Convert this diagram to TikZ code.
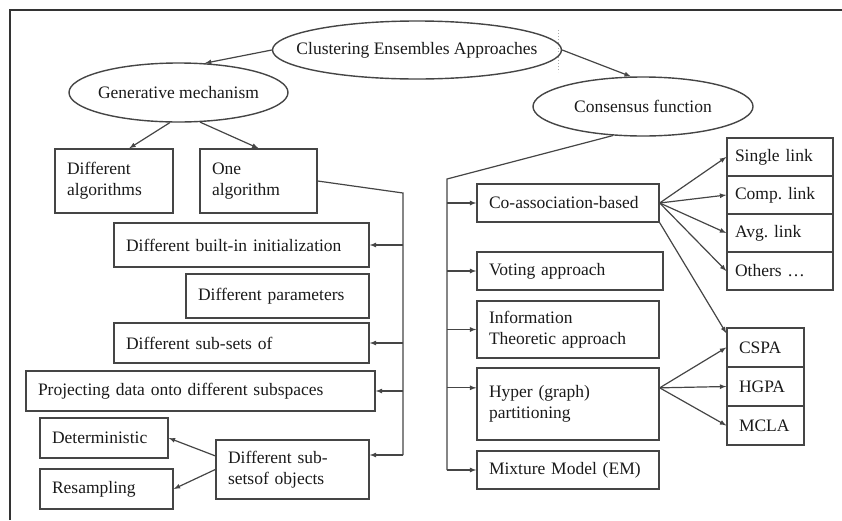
\documentclass[tikz,border=0pt]{standalone}
\usepackage{fontspec}
\setmainfont{Liberation Serif}
\usetikzlibrary{arrows,shapes.geometric}

\definecolor{linecol}{HTML}{454545}
\definecolor{framecol}{HTML}{333333}
\definecolor{textcol}{HTML}{1A1A1A}

\tikzset{
  box/.style={draw=linecol, line width=1.4pt, rectangle, inner xsep=12pt, inner ysep=0pt, align=left, text width=#1},
  oval/.style={draw=linecol, line width=1.4pt, ellipse, inner xsep=-25pt, inner ysep=0pt},
  link/.style={draw=linecol, line width=1.2pt},
}

\begin{document}
\begin{tikzpicture}[x=1pt, y=-1pt, >=latex, every node/.style={font=\fontsize{17.5}{21}\selectfont, text=textcol}]
  \useasboundingbox (0,0) rectangle (842,520);
  \draw [framecol, line width=2pt] (10,520) -- (10,10) -- (842,10);

  \node [oval, minimum width=289pt, minimum height=58pt] (root) at (417,50) {Clustering Ensembles Approaches};
  \node [oval, minimum width=219pt, minimum height=59pt] (gen) at (178.5,92.5) {Generative mechanism};
  \node [oval, minimum width=220pt, minimum height=59pt] (cons) at (643,106.5) {Consensus function};
  \draw [linecol!45, dotted, line width=1pt] (558,30) -- (558,72);

  \node [box=94pt, minimum height=64pt] (difalg) at (114,181) {Different\\algorithms};
  \node [box=93pt, minimum height=64pt] (onealg) at (258.5,181) {One\\algorithm};
  \node [box=231pt, minimum height=44pt] (builtin) at (241.5,245) {Different built-in initialization};
  \node [box=159pt, minimum height=44pt] (params) at (277.5,296) {Different parameters};
  \node [box=231pt, minimum height=40pt] (subsets) at (241.5,343) {Different sub-sets of};
  \node [box=325pt, minimum height=40pt] (project) at (200.5,391) {Projecting data onto different subspaces};
  \node [box=104pt, minimum height=40pt] (determ) at (104,438) {Deterministic};
  \node [box=109pt, minimum height=40pt] (resamp) at (106.5,489) {Resampling};
  \node [box=129pt, minimum height=59pt] (objects) at (292.5,469.5) {Different sub-\\setsof objects};

  \node [box=158pt, minimum height=38pt] (coassoc) at (568,203) {Co-association-based};
  \node [box=162pt, minimum height=38pt] (voting) at (570,271) {Voting approach};
  \node [box=158pt, minimum height=57pt] (info) at (568,329.5) {Information\\Theoretic approach};
  \node [box=158pt, minimum height=72pt] (hyper) at (568,404) {Hyper (graph)\\partitioning};
  \node [box=158pt, minimum height=38pt] (mixture) at (568,470) {Mixture Model (EM)};

  \node [box=90pt, inner xsep=8pt, minimum height=38pt] (single) at (780,157) {Single link};
  \node [box=90pt, inner xsep=8pt, minimum height=38pt] (comp) at (780,195) {Comp.\ link};
  \node [box=90pt, inner xsep=8pt, minimum height=38pt] (avg) at (780,233) {Avg.\ link};
  \node [box=90pt, inner xsep=8pt, minimum height=38pt] (others) at (780,271) {Others \ldots};
  \node [box=53pt, minimum height=39pt] (cspa) at (765.5,347.5) {CSPA};
  \node [box=53pt, minimum height=39pt] (hgpa) at (765.5,386.5) {HGPA};
  \node [box=53pt, minimum height=39pt] (mcla) at (765.5,425.5) {MCLA};

  \draw [->, link] (root.west) -- (gen.48);
  \draw [->, link] (root.east) -- (cons.112);
  \draw [->, link] (gen.-106) -- (difalg.65);
  \draw [->, link] (gen.-54) -- (onealg.north);

  \coordinate (gtop) at (403,193);
  \coordinate (gbot) at (403,455);
  \draw [link] (onealg.east) -- (gtop) -- (gbot);
  \draw [->, link] (gtop |- builtin.east) -- (builtin.east);
  \draw [->, link] (gtop |- subsets.east) -- (subsets.east);
  \draw [->, link] (gtop |- project.east) -- (project.east);
  \draw [->, link] (gbot) -- (gbot -| objects.east);
  \draw [->, link] (objects.170) -- (determ.east);
  \draw [->, link] (objects.west) -- (resamp.east);

  \coordinate (ctop) at (447,179);
  \coordinate (cbot) at (447,470);
  \draw [link] (cons.-136) -- (ctop) -- (cbot);
  \draw [->, link] (ctop |- coassoc.west) -- (coassoc.west);
  \draw [->, link] (ctop |- voting.west) -- (voting.west);
  \draw [->, link] (ctop |- info.west) -- (info.west);
  \draw [->, link] (ctop |- hyper.170) -- (hyper.170);
  \draw [->, link] (cbot) -- (mixture.west);

  \draw [->, link] (coassoc.east) -- (single.west);
  \draw [->, link] (coassoc.east) -- (comp.west);
  \draw [->, link] (coassoc.east) -- (avg.west);
  \draw [->, link] (coassoc.east) -- (others.west);
  \draw [->, link] (coassoc.south east) -- (cspa.160);
  \draw [->, link] (hyper.10) -- (cspa.west);
  \draw [->, link] (hyper.10) -- (hgpa.west);
  \draw [->, link] (hyper.10) -- (mcla.west);
\end{tikzpicture}
\end{document}
